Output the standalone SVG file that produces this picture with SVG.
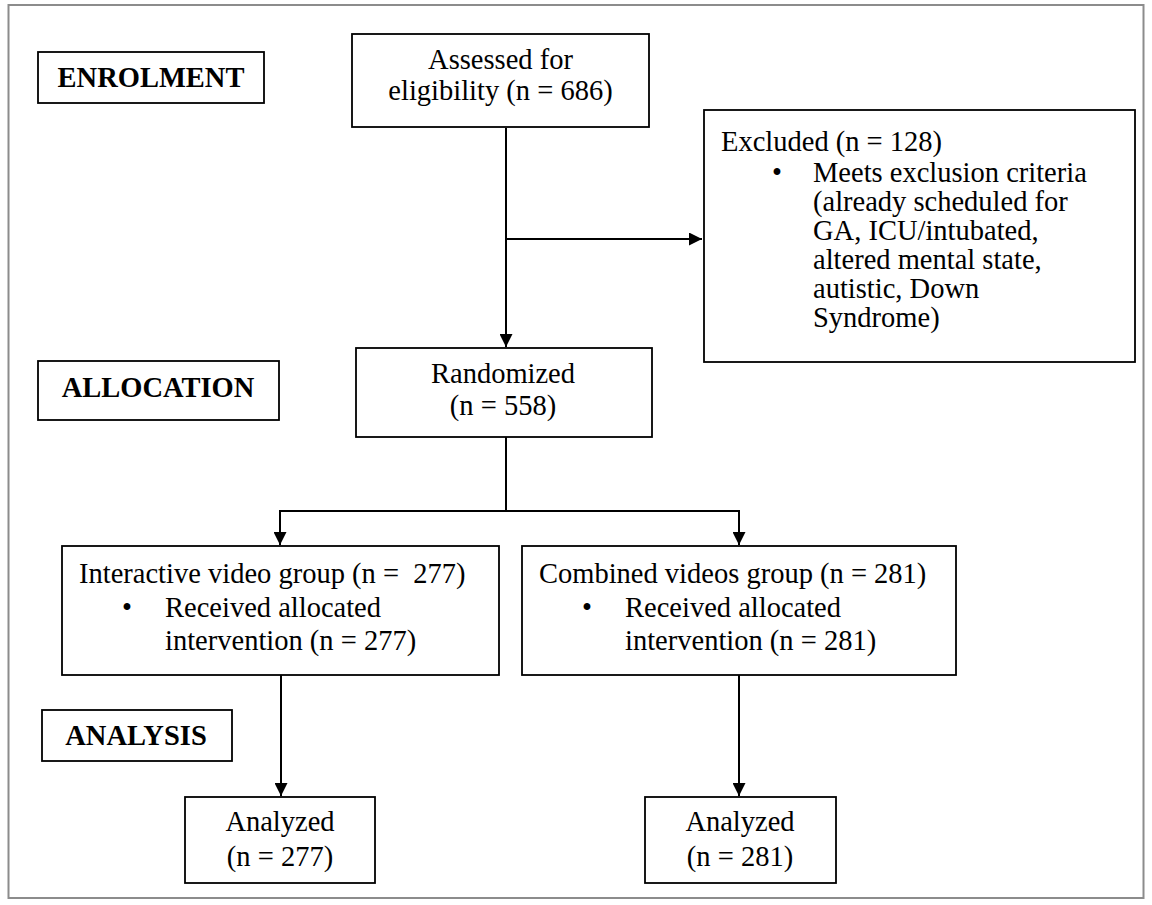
<svg xmlns="http://www.w3.org/2000/svg" width="1152" height="905" viewBox="0 0 1152 905">
<style>
text{font-family:"Liberation Serif","Times New Roman",serif;font-size:28.5px;fill:#000}
.b{font-weight:bold}
.c{text-anchor:middle}
.box{fill:#fff;stroke:#000;stroke-width:1.8}
.ln{fill:none;stroke:#000;stroke-width:2}
</style>
<defs>
<marker id="ah" markerUnits="userSpaceOnUse" markerWidth="14" markerHeight="13" refX="13" refY="6.5" orient="auto">
<path d="M0,0 L13,6.5 L0,13 z" fill="#000"/>
</marker>
</defs>
<rect x="0" y="0" width="1152" height="905" fill="#fff"/>
<rect x="8.5" y="5" width="1135" height="893" fill="none" stroke="#8c8c8c" stroke-width="2"/>
<g id="connectors">
<line class="ln" x1="506" y1="128" x2="506" y2="347" marker-end="url(#ah)"/>
<line class="ln" x1="506" y1="239" x2="702" y2="239" marker-end="url(#ah)"/>
<line class="ln" x1="506" y1="437" x2="506" y2="511"/>
<line class="ln" x1="280" y1="511" x2="739" y2="511"/>
<line class="ln" x1="280" y1="510" x2="280" y2="545" marker-end="url(#ah)"/>
<line class="ln" x1="739" y1="510" x2="739" y2="545" marker-end="url(#ah)"/>
<line class="ln" x1="281" y1="675" x2="281" y2="796" marker-end="url(#ah)"/>
<line class="ln" x1="739" y1="675" x2="739" y2="796" marker-end="url(#ah)"/>
</g>
<g id="enrolment">
<rect class="box" x="38" y="52" width="226" height="51"/>
<text class="b c" x="151" y="87">ENROLMENT</text>
</g>
<g id="allocation">
<rect class="box" x="38" y="361" width="241" height="59"/>
<text class="b c" x="158" y="397">ALLOCATION</text>
</g>
<g id="analysis">
<rect class="box" x="42" y="710" width="190" height="51"/>
<text class="b c" x="136" y="745">ANALYSIS</text>
</g>
<g id="assessed">
<rect class="box" x="352" y="34" width="297" height="93"/>
<text class="c" x="500.5" y="69">Assessed for</text>
<text class="c" x="500.5" y="100">eligibility (n = 686)</text>
</g>
<g id="excluded">
<rect class="box" x="704" y="110" width="431" height="252"/>
<text x="721" y="151">Excluded (n = 128)</text>
<text class="c" x="777" y="182">•</text>
<text x="813" y="182">Meets exclusion criteria</text>
<text x="813" y="211">(already scheduled for</text>
<text x="813" y="240">GA, ICU/intubated,</text>
<text x="813" y="269">altered mental state,</text>
<text x="813" y="298">autistic, Down</text>
<text x="813" y="327">Syndrome)</text>
</g>
<g id="randomized">
<rect class="box" x="356" y="348" width="296" height="89"/>
<text class="c" x="503" y="383">Randomized</text>
<text class="c" x="503" y="415">(n = 558)</text>
</g>
<g id="interactive">
<rect class="box" x="62" y="546" width="437" height="129"/>
<text x="79" y="583" xml:space="preserve">Interactive video group (n =  277)</text>
<text class="c" x="127" y="617">•</text>
<text x="165" y="617">Received allocated</text>
<text x="165" y="650">intervention (n = 277)</text>
</g>
<g id="combined">
<rect class="box" x="522" y="546" width="434" height="129"/>
<text x="539" y="583">Combined videos group (n = 281)</text>
<text class="c" x="587" y="617">•</text>
<text x="625" y="617">Received allocated</text>
<text x="625" y="650">intervention (n = 281)</text>
</g>
<g id="analyzed1">
<rect class="box" x="185" y="797" width="190" height="86"/>
<text class="c" x="280" y="831">Analyzed</text>
<text class="c" x="280" y="866">(n = 277)</text>
</g>
<g id="analyzed2">
<rect class="box" x="645" y="797" width="191" height="86"/>
<text class="c" x="740" y="831">Analyzed</text>
<text class="c" x="740" y="866">(n = 281)</text>
</g>
</svg>
